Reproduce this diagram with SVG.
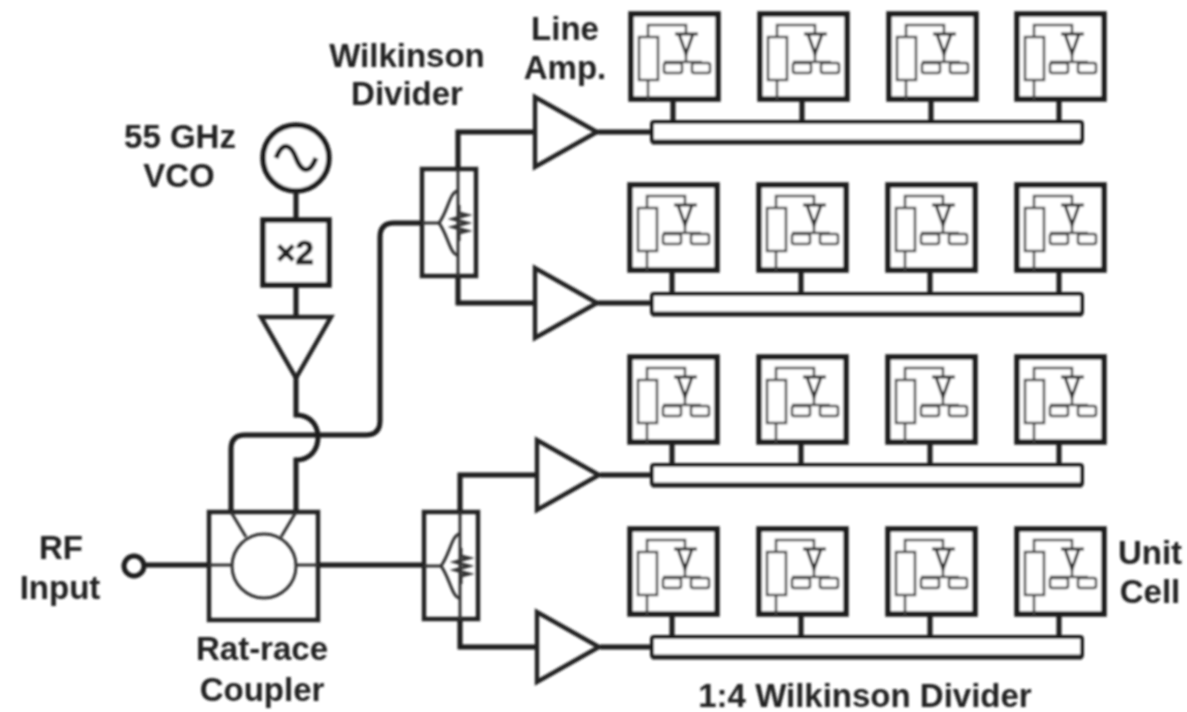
<svg xmlns="http://www.w3.org/2000/svg" width="1187" height="712" viewBox="0 0 1187 712">
<style>
text{font-family:"Liberation Sans",Arial,sans-serif;font-weight:700;font-size:33px;fill:#222;text-anchor:middle}
.k{fill:none;stroke:#1c1c1c;stroke-width:5}
.m{fill:none;stroke:#222;stroke-width:4.5}
.t{fill:none;stroke:#444;stroke-width:2.5}
.d{fill:none;stroke:#333;stroke-width:3}
.w{fill:#fff;stroke:#1c1c1c;stroke-width:5.5}
.b{fill:#fff;stroke:#1c1c1c;stroke-width:4}
</style>
<defs>
<filter id="b" x="-2%" y="-2%" width="104%" height="104%"><feGaussianBlur stdDeviation="0.8"/></filter>
<g id="cell">
<rect class="w" x="0" y="0" width="87" height="85"/>
<path class="t" d="M17 23V11H55V20M17 66V85M55 40V48M33 48H71"/>
<rect class="t" x="8" y="23" width="19" height="43"/>
<path class="d" d="M44 20H67M48 20L55 40L62 20"/>
<rect class="t" x="33" y="49" width="18" height="10" rx="2"/>
<rect class="t" x="61" y="49" width="18" height="10" rx="2"/>
<path class="k" d="M42 85V108"/>
</g>
<g id="wilk">
<rect class="m" x="0" y="0" width="54" height="107"/>
<path class="d" d="M0 54H17M36 22C28 22 26 42 17 54C26 66 28 86 36 86"/>
<path class="d" d="M37 36V44L45 46L31 50L45 54L31 58L45 62L37 64V72" stroke-width="2.2"/>
</g>
<path id="amp" class="m" d="M0 0V70L62 35Z" fill="#fff"/>
</defs>
<g filter="url(#b)">
<g id="connectors">
<path class="k" d="M597 132H652M597 303H652M600 475H652M600 647H652"/>
<path class="k" d="M535 132H458V169M458 277V303H535M537 475H460V512M460 620V647H537"/>
<path class="k" d="M421 223H394Q380 223 380 237V421Q380 435 366 435H245Q231 435 231 449V512"/>
<path class="k" d="M296 378V415C310 415 318 425 318 437C318 450 310 460 296 460V512"/>
<path class="k" d="M296 191V220M296 285V317"/>
<path class="k" d="M144 565H209M318 565H423"/>
</g>
<g id="wilkinson-1"><use href="#wilk" x="422" y="169"/><path class="d" d="M458 169V277"/></g>
<g id="wilkinson-2"><use href="#wilk" x="424" y="512"/><path class="d" d="M460 512V620"/></g>
<g id="amp-1"><use href="#amp" x="535" y="97"/></g>
<g id="amp-2"><use href="#amp" x="535" y="268"/></g>
<g id="amp-3"><use href="#amp" x="537" y="440"/></g>
<g id="amp-4"><use href="#amp" x="537" y="612"/></g>
<g id="vco"><circle class="w" cx="296" cy="158" r="33"/><path class="k" d="M276 158C283 140 291 145 296 158C301 171 309 176 316 158" stroke-width="4"/></g>
<g id="doubler"><rect class="w" x="263" y="220" width="66" height="65"/><text x="295" y="264" stroke="#222" stroke-width="0.8">×2</text></g>
<g id="pa"><path class="m" d="M261 317H331L296 378Z" fill="#fff"/></g>
<g id="rat-race">
<rect class="m" x="209" y="512" width="109" height="108"/>
<circle class="d" cx="264" cy="566" r="32"/>
<path class="d" d="M209 565H232M296 565H318M231 512L246 537M296 512L281 537"/>
</g>
<g id="rf"><circle class="k" cx="134" cy="566" r="10"/></g>
<g id="cells">
<use href="#cell" x="631" y="14"/><use href="#cell" x="760" y="14"/><use href="#cell" x="889" y="14"/><use href="#cell" x="1017" y="14"/>
<use href="#cell" x="630" y="185"/><use href="#cell" x="759" y="185"/><use href="#cell" x="888" y="185"/><use href="#cell" x="1017" y="185"/>
<use href="#cell" x="630" y="357"/><use href="#cell" x="759" y="357"/><use href="#cell" x="888" y="357"/><use href="#cell" x="1017" y="357"/>
<use href="#cell" x="630" y="529"/><use href="#cell" x="759" y="529"/><use href="#cell" x="888" y="529"/><use href="#cell" x="1017" y="529"/>
</g>
<g id="buses">
<rect class="b" x="652" y="122" width="430" height="20" rx="2"/><path class="k" d="M652 142H1082"/>
<rect class="b" x="652" y="294" width="430" height="20" rx="2"/><path class="k" d="M652 314H1082"/>
<rect class="b" x="652" y="465" width="430" height="20" rx="2"/><path class="k" d="M652 485H1082"/>
<rect class="b" x="652" y="637" width="430" height="20" rx="2"/><path class="k" d="M652 657H1082"/>
</g>
<g id="labels">
<text x="180" y="148">55 GHz</text><text x="179" y="187">VCO</text>
<text x="407" y="67">Wilkinson</text><text x="407" y="105">Divider</text>
<text x="565" y="40">Line</text><text x="565" y="79">Amp.</text>
<text x="61" y="559">RF</text><text x="60" y="599">Input</text>
<text x="262" y="660">Rat-race</text><text x="262" y="701">Coupler</text>
<text x="1150" y="564">Unit</text><text x="1150" y="603">Cell</text>
<text x="865" y="707">1:4 Wilkinson Divider</text>
</g>
</g>
</svg>
